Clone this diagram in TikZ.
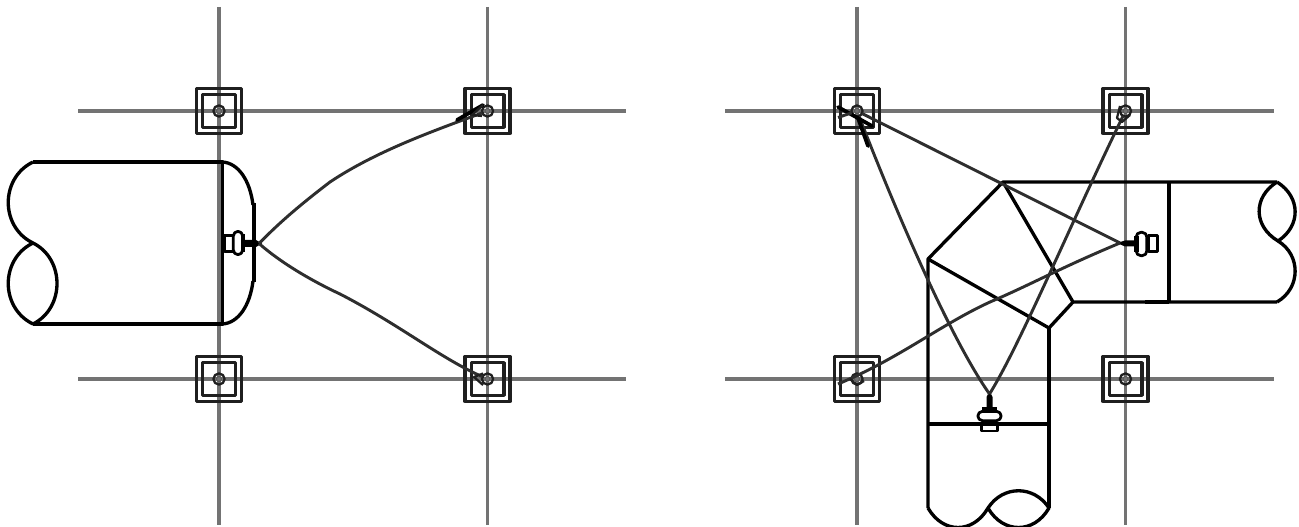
\documentclass[tikz,border=0pt]{standalone}
\begin{document}
\begin{tikzpicture}[x=0.75pt,y=-0.75pt,line join=round,
  gridline/.style={draw=black!55,line width=2.3pt},
  ductline/.style={draw=black,line width=2.5pt},
  wire/.style={draw=black!82,line width=2.2pt},
  thick wire/.style={draw=black,line width=2.8pt,line cap=round},
  tear/.style={draw=black!88,line width=1.7pt},
  outer box/.style={draw=black!88,line width=2.6pt,minimum size=33.6pt,inner sep=0pt,outer sep=0pt,rectangle},
  inner box/.style={draw=black!88,line width=2.6pt,minimum size=24.4pt,inner sep=0pt,outer sep=0pt,rectangle},
  ring/.style={circle,draw=black!88,line width=1.7pt,minimum size=8.4pt,inner sep=0pt,outer sep=0pt},
  hole/.style={circle,draw=black!65,line width=.7pt,minimum size=3.8pt,inner sep=0pt,outer sep=0pt},
  bodypart/.style={draw=black,line width=2.1pt,fill=white}]
\useasboundingbox (0,0) rectangle (1299,527);
\clip (0,0) rectangle (1299,527);
% grid ends
\foreach \n/\x in {a/219,b/487.5,c/857,d/1125.5}{
  \coordinate (\n T) at (\x,7);
  \coordinate (\n B) at (\x,525);
  \draw[gridline] (\n T) -- (\n B);
}
\coordinate (hl1) at (78,111); \coordinate (hr1) at (626,111);
\coordinate (hl2) at (78,379); \coordinate (hr2) at (626,379);
\coordinate (hl3) at (725,111); \coordinate (hr3) at (1274,111);
\coordinate (hl4) at (725,379); \coordinate (hr4) at (1274,379);
\foreach \i in {1,2,3,4}{\draw[gridline] (hl\i) -- (hr\i);}
% columns
\foreach \n/\x/\y in {p/219/111,q/487.5/111,r/219/379,s/487.5/379,t/857/111,u/1125.5/111,v/857/379,w/1125.5/379}{
  \node[outer box] (\n o) at (\x,\y) {};
  \node[inner box] (\n i) at (\x,\y) {};
  \node[ring] (\n) at (\x,\y) {};
  \node[hole] (\n h) at (\x,\y) {};
}
% LEFT duct
\coordinate (A1) at (33,162); \coordinate (A2) at (33,243); \coordinate (A3) at (33,324);
\coordinate (A4) at (222.5,162); \coordinate (A5) at (222.5,324);
\draw[ductline] (A1) -- (A4) -- (A5) -- (A3);
\draw[ductline] (A1) .. controls (0,178) and (0,227) .. (A2)
  .. controls (65,259) and (65,308) .. (A3)
  .. controls (0,308) and (0,259) .. (A2);
\coordinate (A6) at (253,205); \coordinate (A7) at (253,281);
\draw[ductline] (A4) .. controls (238,163) and (250,180) .. (A6);
\draw[ductline] (A5) .. controls (238,323) and (250,306) .. (A7);
\draw[draw=black,line width=3pt] (254,203) -- (254,282);
% left device
\node[bodypart,minimum width=6.5pt,minimum height=12pt,inner sep=0pt,outer sep=0pt] (D1r) at (229,243.5) {};
\node[bodypart,rounded corners=3.5pt,minimum width=7pt,minimum height=17.5pt,inner sep=0pt,outer sep=0pt] (D1e) at (238,243) {};
\fill[black] (240.5,234) rectangle (245,252);
\fill[black] (245,240) -- (256,240) -- (262,243.5) -- (256,247) -- (245,247) -- cycle;
\coordinate (D1t) at (259,243.5);
% wires left
\draw[wire] (D1t) .. controls (280,222) and (300,205) .. (330,182) .. controls (375,152) and (430,132) .. (q);
\draw[wire] (D1t) .. controls (280,262) and (310,280) .. (340,294) .. controls (400,325) and (440,358) .. (s);
\draw[thick wire] (457,120) -- (483,105);
\draw[tear] (483,105) -- (472,115) -- (482,116);
\draw[tear] (483,373.5) -- (474,377) -- (483,385);
% RIGHT elbow
\coordinate (E1) at (1003,182); \coordinate (E2) at (928,259); \coordinate (E3) at (1049,328);
\coordinate (E4) at (1073,302); \coordinate (E5) at (1277,182); \coordinate (E6) at (1277,302);
\coordinate (E7) at (1278,241); \coordinate (E8) at (928,508); \coordinate (E9) at (1049,508);
\coordinate (E10) at (988,508); \coordinate (E11) at (1169,182); \coordinate (E12) at (1169,302);
\coordinate (E13) at (928,424); \coordinate (E14) at (1049,424);
\draw[ductline] (E5) -- (E1) -- (E2) -- (E8);
\draw[ductline] (E1) -- (E4) -- (E6);
\draw[ductline] (E2) -- (E3) -- (E4);
\draw[ductline] (E3) -- (E9);
\draw[ductline] (E11) -- (E12);
\draw[draw=black,line width=3.2pt] (1145,302) -- (E12);
\draw[draw=black,line width=3pt] (E13) -- (E14);
\draw[ductline] (E5) .. controls (1253,197) and (1253,226) .. (E7)
  .. controls (1301,226) and (1301,197) .. (E5);
\draw[ductline] (E7) .. controls (1301,255) and (1301,288) .. (E6);
\draw[ductline] (E8) .. controls (943,534) and (973,534) .. (E10)
  .. controls (1003,534) and (1034,534) .. (E9)
  .. controls (1034,485) and (1003,485) .. (E10);
% right device
\node[bodypart,minimum width=6.5pt,minimum height=12pt,inner sep=0pt,outer sep=0pt] (D2r) at (1153,243.5) {};
\node[bodypart,rounded corners=3.5pt,minimum width=8pt,minimum height=17.5pt,inner sep=0pt,outer sep=0pt] (D2e) at (1141.5,244) {};
\fill[black] (1134,236) rectangle (1139,252);
\fill[black] (1134,240.5) -- (1125,240.5) -- (1117,243) -- (1125,246.5) -- (1134,246.5) -- cycle;
\coordinate (D2t) at (1120,243);
% bottom device
\node[bodypart,minimum width=12pt,minimum height=4.4pt,inner sep=0pt,outer sep=0pt] (D3r) at (989.5,428) {};
\draw[draw=black,line width=3pt] (E13) -- (E14);
\node[bodypart,rounded corners=3.5pt,minimum width=17.5pt,minimum height=7pt,inner sep=0pt,outer sep=0pt] (D3e) at (989.5,416) {};
\fill[black] (982,407) rectangle (997,413);
\fill[black] (986.5,408) -- (986.5,397) -- (989.5,391) -- (992.5,397) -- (992.5,408) -- cycle;
\coordinate (D3t) at (989.5,394);
% wires right
\draw[wire] (D2t) -- (t);
\draw[wire] (D2t) .. controls (1060,268) and (1030,285) .. (990,302) .. controls (940,325) and (900,358) .. (838,384);
\draw[wire] (D3t) .. controls (955,345) and (905,235) .. (t);
\draw[wire] (D3t) .. controls (1020,345) and (1070,225) .. (u);
\draw[thick wire] (838,107) -- (872,126);
\draw[thick wire] (858,118) -- (868,146);
\draw[wire] (838,117.5) -- (t);
\draw[tear] (1120,106) -- (1117,118) -- (1122,122) -- (1130,115);
\draw[tear] (850,379) -- (857,385) -- (864,381);
\end{tikzpicture}
\end{document}
